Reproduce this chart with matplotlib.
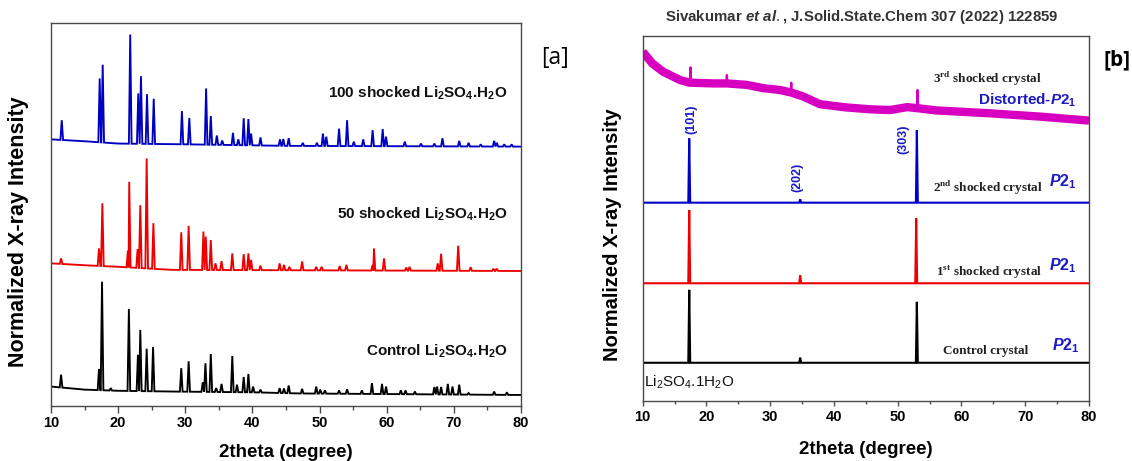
import numpy as np
import matplotlib
matplotlib.use("Agg")
import matplotlib.pyplot as plt
from matplotlib.ticker import MultipleLocator

plt.rcParams['font.family'] = ['Liberation Sans', 'DejaVu Sans']
plt.rcParams['mathtext.fontset'] = 'custom'
plt.rcParams['mathtext.rm'] = 'Liberation Sans'
plt.rcParams['mathtext.bf'] = 'Liberation Sans:bold'
plt.rcParams['mathtext.it'] = 'Liberation Sans:italic:bold'
plt.rcParams['mathtext.cal'] = 'Liberation Serif:bold'

# ---------------- data : panel [a] ----------------
x_range = [10, 80]
x_ticks = [10, 20, 30, 40, 50, 60, 70, 80]
x_tick_labels = ["10", "20", "30", "40", "50", "60", "70", "80"]

a_ctrl_base_x = [10, 15, 20, 28, 40, 47, 80]
a_ctrl_base_y = [5.0, 4.2, 3.9, 3.7, 3.5, 3.2, 2.8]
a_ctrl_peak_x = [11.5, 17.15, 17.6, 18.9, 21.6, 22.95, 23.3, 24.25, 25.2, 29.4, 30.5,
                 32.6, 33.0, 33.8, 34.6, 35.4, 37.0, 37.7, 38.7, 39.4, 40.1, 41.2,
                 44.05, 44.7, 45.4, 47.4, 49.5, 50.1, 50.8, 52.9, 54.1, 56.3, 57.8,
                 59.3, 59.9, 62.1, 62.8, 64.2, 67.1, 67.5, 68.1, 69.1, 69.8, 70.8,
                 72.2, 76.0, 77.9]
a_ctrl_peak_y = [8.1, 9.6, 32.4, 4.6, 25.3, 13.3, 19.8, 14.9, 15.3, 9.8, 11.6,
                 6.1, 11.1, 13.5, 4.6, 5.7, 13.0, 5.5, 7.5, 8.3, 5.0, 4.2,
                 4.6, 4.5, 5.3, 4.4, 5.0, 4.2, 4.0, 4.0, 4.3, 4.0, 5.9,
                 5.7, 5.0, 4.0, 4.0, 3.7, 4.9, 5.0, 4.9, 5.7, 5.0, 5.5,
                 3.3, 3.7, 3.5]

a_50_base_x = [10, 15, 20, 28, 45, 80]
a_50_base_y = [37.2, 36.7, 36.3, 35.5, 35.4, 35.2]
a_50_peak_x = [11.5, 17.15, 17.65, 21.45, 21.65, 22.9, 23.3, 24.25, 25.25, 29.4, 30.5,
               32.7, 33.05, 33.8, 34.5, 35.4, 37.0, 38.7, 39.4, 39.8, 41.2, 44.05,
               44.7, 45.5, 47.4, 49.5, 50.3, 53.0, 54.0, 57.9, 58.1, 59.6, 62.9,
               63.4, 67.6, 68.1, 70.65, 72.5, 75.9, 76.4]
a_50_peak_y = [38.5, 41.1, 52.9, 40.5, 58.5, 40.9, 52.4, 64.6, 47.7, 45.3, 47.0,
               45.5, 44.2, 43.3, 37.2, 37.8, 39.8, 39.6, 39.8, 38.1, 36.6, 37.2,
               36.8, 36.3, 37.7, 36.3, 36.3, 36.5, 36.8, 36.8, 41.1, 38.5, 36.1,
               36.3, 37.2, 39.7, 41.8, 36.2, 35.8, 35.8]

a_100_base_x = [10, 15, 20, 30, 45, 80]
a_100_base_y = [69.6, 69.1, 68.5, 68.3, 67.9, 67.7]
a_100_peak_x = [11.6, 17.25, 17.7, 21.8, 23.0, 23.4, 24.3, 25.3, 29.5, 30.6, 33.1,
                33.8, 34.7, 35.5, 37.1, 37.9, 38.7, 39.4, 39.8, 41.2, 44.1, 44.6,
                45.4, 47.5, 49.6, 50.5, 51.0, 52.9, 54.1, 55.1, 56.5, 57.9, 59.4,
                59.9, 62.7, 65.1, 67.1, 68.3, 70.8, 72.2, 74.0, 76.0, 76.4, 77.5, 78.6]
a_100_peak_y = [74.6, 85.5, 89.1, 97.0, 81.6, 86.1, 81.4, 80.2, 77.0, 75.2, 82.9,
                75.7, 70.6, 69.3, 71.3, 69.6, 75.1, 74.9, 71.1, 70.1, 69.6, 69.7,
                69.9, 68.7, 68.7, 71.1, 70.3, 72.4, 74.6, 69.0, 69.6, 72.0, 72.3,
                70.3, 69.0, 68.5, 68.5, 69.9, 69.2, 68.7, 68.3, 69.2, 68.7, 68.3, 68.3]

a_labels = ["Control Li$_\\mathbf{2}$SO$_\\mathbf{4}$.H$_\\mathbf{2}$O",
            "50 shocked Li$_\\mathbf{2}$SO$_\\mathbf{4}$.H$_\\mathbf{2}$O",
            "100 shocked Li$_\\mathbf{2}$SO$_\\mathbf{4}$.H$_\\mathbf{2}$O"]

# ---------------- data : panel [b] ----------------
b_ctrl_base_x = [10, 80]
b_ctrl_base_y = [10.4, 10.4]
b_ctrl_peak_x = [17.3, 34.7, 53.0]
b_ctrl_peak_y = [30.4, 11.8, 27.1]

b_1st_base_x = [10, 80]
b_1st_base_y = [32.2, 32.2]
b_1st_peak_x = [17.3, 34.7, 52.9]
b_1st_peak_y = [52.3, 34.4, 50.0]

b_2nd_base_x = [10, 80]
b_2nd_base_y = [54.3, 54.3]
b_2nd_peak_x = [17.3, 34.7, 53.0]
b_2nd_peak_y = [71.9, 55.2, 74.2]

b_3rd_base_x = [10.0, 11.5, 13.2, 15.9, 17.4, 21.0, 23.2, 26.3, 28.9, 31.5, 33.3, 35.2,
                37.8, 42.0, 45.7, 48.8, 51.5, 53.1, 56.0, 64.5, 72.3, 80.0]
b_3rd_base_y = [95.7, 92.5, 90.2, 87.9, 87.2, 87.0, 87.0, 86.6, 85.7, 85.2, 84.5, 83.4,
                81.3, 80.4, 79.9, 79.7, 80.5, 80.2, 79.6, 78.8, 77.9, 76.8]
b_3rd_peak_x = [17.5, 23.2, 33.3, 53.1]
b_3rd_peak_y = [91.4, 89.3, 87.2, 85.2]

hkl_labels = ["(101)", "(202)", "(303)"]
hkl_x = [17.7, 34.3, 50.9]
hkl_y = [77.1, 61.2, 71.8]

b_crystal_labels = ["Control crystal",
                    "1$^{\\mathcal{st}}$ shocked crystal",
                    "2$^{\\mathcal{nd}}$ shocked crystal",
                    "3$^{\\mathcal{rd}}$ shocked crystal"]
b_phase_labels = ["$P$2$_\\mathbf{1}$", "$P$2$_\\mathbf{1}$", "$P$2$_\\mathbf{1}$",
                  "Distorted-$P$2$_\\mathbf{1}$"]

# ---------------- helpers ----------------
def trace(base_x, base_y, pk_x, pk_y, hw):
    pk_x = np.asarray(pk_x, float)
    pk_y = np.asarray(pk_y, float)
    o = np.argsort(pk_x)
    pk_x, pk_y = pk_x[o], pk_y[o]
    xs = []
    n = len(pk_x)
    for i, px in enumerate(pk_x):
        lo, hi = px - hw, px + hw
        if i > 0:
            lo = max(lo, (pk_x[i - 1] + px) / 2)
        if i < n - 1:
            hi = min(hi, (px + pk_x[i + 1]) / 2)
        xs += [lo, px, hi]
    xs = np.array(xs)
    ys = np.interp(xs, base_x, base_y)
    ys[1::3] = pk_y
    lows, highs = xs[0::3], xs[2::3]
    bx = np.array([b for b in base_x if not np.any((b >= lows) & (b <= highs))])
    allx = np.concatenate([xs, bx])
    ally = np.concatenate([ys, np.interp(bx, base_x, base_y)])
    o = np.argsort(allx, kind="stable")
    return allx[o], ally[o]


W, H = 1132, 461
fig = plt.figure(figsize=(W / 100, H / 100), dpi=100)
spine_col = "#4a4a4a"
blue_txt = "#1b1bc4"


def px2fig(x, y):
    return x / W, 1 - y / H


def style_axes(ax, major_len, minor_len, pad):
    ax.set_xlim(*x_range)
    ax.set_ylim(0, 100)
    ax.set_xticks(x_ticks)
    ax.set_xticklabels(x_tick_labels, fontsize=10.5, fontweight="bold")
    ax.xaxis.set_minor_locator(MultipleLocator(5))
    ax.set_yticks([])
    ax.tick_params(axis="x", which="major", direction="out", length=major_len,
                   width=1.0, color=spine_col, pad=pad)
    ax.tick_params(axis="x", which="minor", direction="out", length=minor_len,
                   width=1.0, color=spine_col)
    for s in ax.spines.values():
        s.set_color(spine_col)
        s.set_linewidth(1.0)


# ---------------- panel [a] ----------------
x0, y1 = px2fig(51, 23)
x1, y0 = px2fig(521, 405.7)
ax_a = fig.add_axes([x0, y0, x1 - x0, y1 - y0])
style_axes(ax_a, 5, 3, 2.6)

series_a = [(a_ctrl_base_x, a_ctrl_base_y, a_ctrl_peak_x, a_ctrl_peak_y, "black"),
            (a_50_base_x, a_50_base_y, a_50_peak_x, a_50_peak_y, "#ee0000"),
            (a_100_base_x, a_100_base_y, a_100_peak_x, a_100_peak_y, "#0000c0")]
for bx, by, pxs, pys, col in series_a:
    tx, ty = trace(bx, by, pxs, pys, 0.2)
    ax_a.plot(tx, ty, color=col, lw=1.35, solid_joinstyle="miter")

a_label_y = [13.0, 49.0, 80.6]
for lab, ly in zip(a_labels, a_label_y):
    ax_a.text(78.0, ly, lab, ha="right", va="baseline", fontsize=11,
              fontweight="bold", color="#111111")

fx, fy = px2fig(286, 457)
fig.text(fx, fy, "2theta (degree)", ha="center", va="baseline", fontsize=13.5,
         fontweight="bold")
fx, fy = px2fig(19, 232)
fig.text(fx, fy, "Normalized X-ray Intensity", rotation=90, ha="center",
         va="center", fontsize=15.5, fontweight="bold")
fx, fy = px2fig(555, 58)
fig.text(fx, fy, "[a]", ha="center", va="center", fontsize=16.5,
         family=["Open Sans", "DejaVu Sans"])

# ---------------- panel [b] ----------------
x0, y1 = px2fig(642.7, 36)
x1, y0 = px2fig(1089, 400.7)
ax_b = fig.add_axes([x0, y0, x1 - x0, y1 - y0])
style_axes(ax_b, 3.6, 2, 3.0)

series_b = [(b_ctrl_base_x, b_ctrl_base_y, b_ctrl_peak_x, b_ctrl_peak_y, "black"),
            (b_1st_base_x, b_1st_base_y, b_1st_peak_x, b_1st_peak_y, "#ee0000"),
            (b_2nd_base_x, b_2nd_base_y, b_2nd_peak_x, b_2nd_peak_y, "#0000c8")]
for bx, by, pxs, pys, col in series_b:
    tx, ty = trace(bx, by, pxs, pys, 0.15)
    ax_b.plot(tx, ty, color=col, lw=1.5, solid_joinstyle="miter")

magenta = "#d800c0"
ax_b.plot(b_3rd_base_x, b_3rd_base_y, color=magenta, lw=6.0,
          solid_joinstyle="round", solid_capstyle="butt")
tx, ty = trace(b_3rd_base_x, b_3rd_base_y, b_3rd_peak_x, b_3rd_peak_y, 0.12)
ax_b.plot(tx, ty, color=magenta, lw=1.6)

for lab, hx, hy in zip(hkl_labels, hkl_x, hkl_y):
    ax_b.text(hx, hy, lab, rotation=90, ha="center", va="center", fontsize=9,
              fontweight="bold", color=blue_txt)

crys_x = [57.1, 56.0, 55.5, 55.5]
crys_y = [12.8, 34.3, 57.3, 87.0]
for lab, cx, cy in zip(b_crystal_labels, crys_x, crys_y):
    ax_b.text(cx, cy, lab, ha="left", va="baseline", fontsize=9.5,
              fontweight="bold", family=["Liberation Serif"], color="#222222")

phase_x = [78.6, 78.0, 78.1, 78.1]
phase_y = [13.9, 35.8, 58.7, 81.1]
phase_fs = [11.5, 11.5, 11.5, 11]
for lab, px_, py_, fs in zip(b_phase_labels, phase_x, phase_y, phase_fs):
    ax_b.text(px_, py_, lab, ha="right", va="baseline", fontsize=fs,
              fontweight="bold", color=blue_txt)

ax_b.text(10.25, 3.8, "Li$_\\mathrm{2}$SO$_\\mathrm{4}$.1H$_\\mathrm{2}$O", ha="left",
          va="baseline", fontsize=11, color="#111111")

fx, fy = px2fig(866, 454)
fig.text(fx, fy, "2theta (degree)", ha="center", va="baseline", fontsize=13.5,
         fontweight="bold")
fx, fy = px2fig(612, 234.5)
fig.text(fx, fy, "Normalized X-ray Intensity", rotation=90, ha="center",
         va="center", fontsize=14.5, fontweight="bold")
fx, fy = px2fig(1117, 60)
fig.text(fx, fy, "[b]", ha="center", va="center", fontsize=15, fontweight="bold",
         family=["Open Sans", "DejaVu Sans"])
fx, fy = px2fig(862, 17.3)
fig.text(fx, fy,
         "Sivakumar $\\mathit{et\\ al.}\\mathbf{,}$ J.Solid.State.Chem 307 (2022) 122859",
         ha="center", va="center", fontsize=10.8, fontweight="bold", color="#333333")

fig.savefig("out.png", dpi=100)
